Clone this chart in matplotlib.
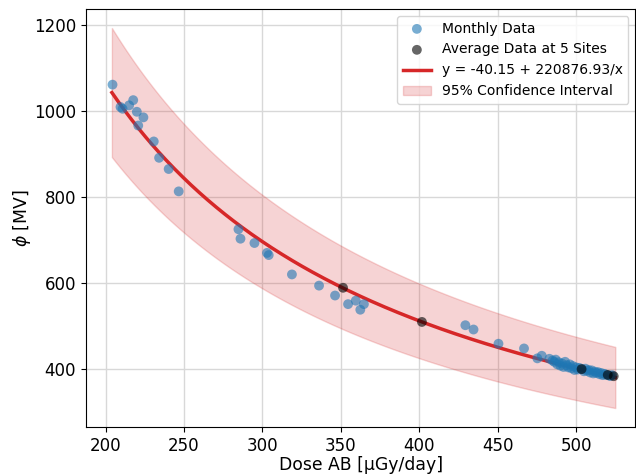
import numpy as np
import matplotlib
matplotlib.use("Agg")
import matplotlib.pyplot as plt

# Monthly data (dose, phi)
monthly_dose = [204.4, 209.5, 210.8, 215.0, 217.6, 219.9, 224.1, 220.8, 230.7, 234.1,
                240.2, 246.6, 284.7, 286.0, 294.9, 302.9, 304.0, 318.8, 336.1, 346.3,
                354.6, 359.5, 364.7, 362.4, 429.4, 434.6, 450.5, 466.8, 475.3, 478.1,
                483.0, 485.0, 486.0, 487.0, 488.0, 489.0, 490.0, 491.0, 492.0, 493.0,
                494.0, 495.0, 496.0, 497.0, 498.0, 499.0, 500.0, 501.0, 502.0, 504.0,
                505.0, 506.0, 507.0, 508.0, 509.0, 510.0, 511.0, 512.0, 513.0, 514.0,
                515.0, 516.0, 517.0, 518.0, 519.0, 521.0, 522.0, 523.0]
monthly_phi = [1061, 1009, 1005, 1013, 1025, 998, 985, 966, 929, 891,
               865, 813, 725, 703, 693, 670, 665, 620, 594, 571,
               551, 559, 551, 538, 502, 492, 459, 448, 425, 431,
               424, 420, 417, 422, 411, 416, 408, 413, 405, 417,
               409, 404, 411, 402, 407, 398, 404, 399, 403, 400,
               395, 401, 396, 398, 392, 397, 390, 394, 391, 393,
               388, 391, 386, 389, 387, 385, 384, 386]

# Average data at 5 sites
avg_dose = [351.4, 401.7, 503.5, 520.2, 524.0]
avg_phi = [589, 509.6, 400, 386.5, 383.5]

# Fit parameters y = a + b/x and band half-width parameters
fit_a = -40.15
fit_b = 220876.93
band_da = 20.8
band_db = 26358.0
x_min, x_max = 204.0, 525.0

fig = plt.figure(figsize=(6.36, 4.75), dpi=100)
ax = fig.add_axes([0.135, 0.101, 0.864, 0.880])

xs = np.linspace(x_min, x_max, 300)
ys = fit_a + fit_b / xs
hw = band_da + band_db / xs

ax.fill_between(xs, ys - hw, ys + hw, color='tab:red', alpha=0.2,
                label='95% Confidence Interval', zorder=1)
ax.plot(xs, ys, color='#d62728', lw=2.5,
        label='y = -40.15 + 220876.93/x', zorder=2)
ax.scatter(monthly_dose, monthly_phi, s=50, color='#1f77b4', alpha=0.6,
           label='Monthly Data', zorder=3, edgecolors='none')
ax.scatter(avg_dose, avg_phi, s=50, color='black', alpha=0.6,
           label='Average Data at 5 Sites', zorder=4, edgecolors='none')

ax.set_xlim(187.4, 537.8)
ax.grid(True, color='#d8d8d8', lw=1)
ax.set_axisbelow(True)
ax.set_xlabel('Dose AB [µGy/day]', fontsize=12.4, labelpad=0.8)
ax.set_ylabel(r'$\phi$ [MV]', fontsize=12.4, labelpad=0.8)
ax.tick_params(labelsize=12)
ax.set_xticks([200, 250, 300, 350, 400, 450, 500])
ax.set_yticks([400, 600, 800, 1000, 1200])

h, l = ax.get_legend_handles_labels()
order = [2, 3, 1, 0]
ax.legend([h[i] for i in order], [l[i] for i in order], loc='upper right', fontsize=10)

fig.savefig('out.png', dpi=100)
